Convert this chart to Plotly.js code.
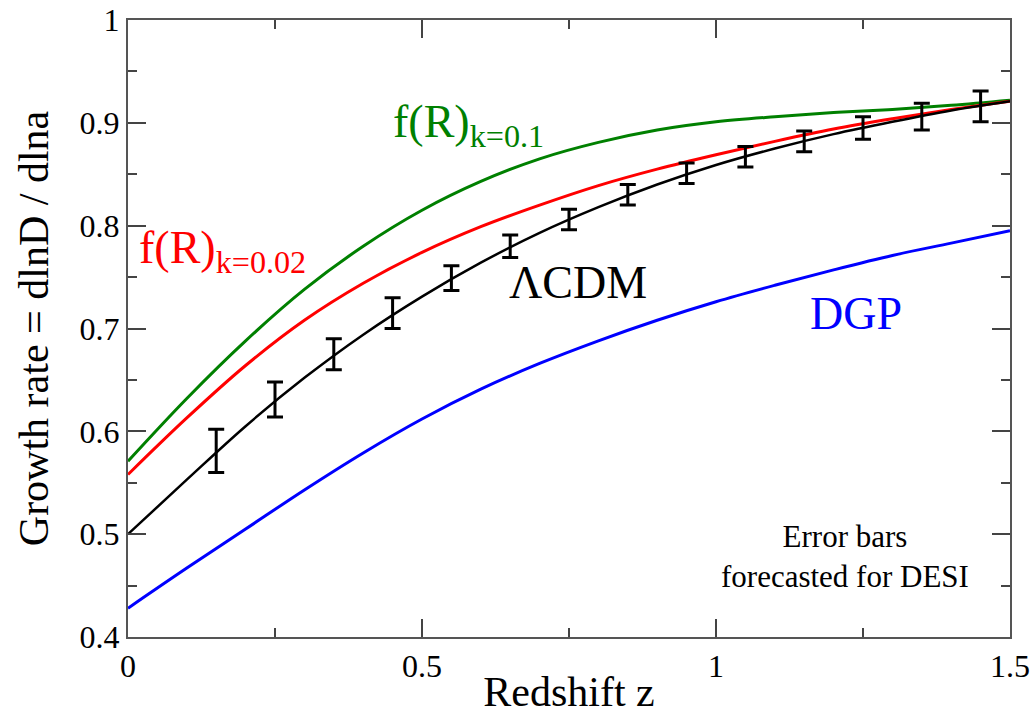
<!DOCTYPE html>
<html>
<head>
<meta charset="utf-8">
<script src="https://cdn.plot.ly/plotly-3.0.1.min.js"></script>
<style>html,body{margin:0;padding:0;background:#fff;}#chart{width:1035px;height:715px;}</style>
</head>
<body>
<div id="chart"></div>
<script>
// Redshift grid for the model curves
const z = [0, 0.1, 0.2, 0.3, 0.4, 0.5, 0.6, 0.7, 0.8, 0.9, 1.0, 1.1, 1.2, 1.3, 1.4, 1.5];
// Growth rate f = dlnD/dlna
const fLCDM  = [0.500, 0.553, 0.605, 0.652, 0.694, 0.731, 0.764, 0.793, 0.818, 0.840, 0.859, 0.875, 0.889, 0.901, 0.912, 0.921];
const fR002  = [0.558, 0.613, 0.664, 0.708, 0.744, 0.774, 0.799, 0.820, 0.839, 0.855, 0.869, 0.882, 0.894, 0.904, 0.913, 0.921];
const fR01   = [0.571, 0.632, 0.688, 0.738, 0.780, 0.815, 0.843, 0.865, 0.881, 0.893, 0.901, 0.906, 0.910, 0.913, 0.917, 0.922];
const fDGP   = [0.428, 0.467, 0.505, 0.543, 0.579, 0.612, 0.641, 0.666, 0.688, 0.708, 0.726, 0.742, 0.757, 0.771, 0.783, 0.795];
// DESI forecast error bars on the LCDM curve
const zDESI   = [0.15, 0.25, 0.35, 0.45, 0.55, 0.65, 0.75, 0.85, 0.95, 1.05, 1.15, 1.25, 1.35, 1.45];
const fDESI   = [0.581, 0.631, 0.675, 0.715, 0.749, 0.780, 0.806, 0.830, 0.851, 0.867, 0.882, 0.895, 0.906, 0.916];
const errDESI = [0.021, 0.017, 0.015, 0.015, 0.012, 0.011, 0.010, 0.010, 0.010, 0.010, 0.010, 0.011, 0.013, 0.015];

const serif = 'Times New Roman';
const green = 'rgb(0,128,0)';
const red = 'rgb(255,0,0)';
const blue = 'rgb(0,0,255)';

const traces = [
  {x: z, y: fDGP, mode: 'lines', line: {color: blue, width: 3, shape: 'spline', smoothing: 1}, name: 'DGP', hoverinfo: 'skip'},
  {x: z, y: fR01, mode: 'lines', line: {color: green, width: 3, shape: 'spline', smoothing: 1}, name: 'f(R) k=0.1', hoverinfo: 'skip'},
  {x: z, y: fR002, mode: 'lines', line: {color: red, width: 3, shape: 'spline', smoothing: 1}, name: 'f(R) k=0.02', hoverinfo: 'skip'},
  {x: z, y: fLCDM, mode: 'lines', line: {color: 'black', width: 2.5, shape: 'spline', smoothing: 1}, name: 'ΛCDM', hoverinfo: 'skip'},
  {x: zDESI, y: fDESI, mode: 'markers', marker: {size: 1, color: 'rgba(0,0,0,0)'}, name: 'DESI',
   error_y: {type: 'data', array: errDESI, visible: true, color: 'black', thickness: 3, width: 8}}
];

const axisCommon = {
  showline: true, linecolor: '#555', linewidth: 2, mirror: 'ticks',
  ticks: 'inside', ticklen: 18, tickwidth: 2, tickcolor: '#444',
  showgrid: false, zeroline: false,
  tickfont: {family: serif, size: 32, color: 'black'}
};

const layout = {
  width: 1035, height: 715,
  margin: {l: 128, r: 25, t: 20, b: 78, pad: 0},
  paper_bgcolor: 'white', plot_bgcolor: 'white',
  showlegend: false,
  font: {family: serif, color: 'black', size: 32},
  xaxis: Object.assign({}, axisCommon, {
    range: [0, 1.5], tick0: 0, dtick: 0.5,
    minor: {dtick: 0.25, ticks: 'inside', ticklen: 9, tickwidth: 2, tickcolor: '#444'},
    title: {text: 'Redshift z', font: {family: serif, size: 42, color: 'black'}, standoff: 2}
  }),
  yaxis: Object.assign({}, axisCommon, {
    range: [0.4, 1], tick0: 0.4, dtick: 0.1,
    minor: {dtick: 0.05, ticks: 'inside', ticklen: 9, tickwidth: 2, tickcolor: '#444'},
    title: {text: 'Growth rate = dlnD / dlna', font: {family: serif, size: 42, color: 'black'}, standoff: 18}
  }),
  annotations: [
    {xref: 'x', yref: 'y', x: 0.447, y: 0.898, xanchor: 'left', yanchor: 'middle', showarrow: false,
     text: 'f(R)<sub>k=0.1</sub>', font: {family: serif, size: 46, color: green}},
    {xref: 'x', yref: 'y', x: 0.015, y: 0.775, xanchor: 'left', yanchor: 'middle', showarrow: false,
     text: 'f(R)<sub>k=0.02</sub>', font: {family: serif, size: 46, color: red}},
    {xref: 'x', yref: 'y', x: 0.765, y: 0.745, xanchor: 'center', yanchor: 'middle', showarrow: false,
     text: 'ΛCDM', font: {family: serif, size: 46, color: 'black'}},
    {xref: 'x', yref: 'y', x: 1.238, y: 0.715, xanchor: 'center', yanchor: 'middle', showarrow: false,
     text: 'DGP', font: {family: serif, size: 46, color: blue}},
    {xref: 'x', yref: 'y', x: 1.22, y: 0.478, xanchor: 'center', yanchor: 'middle', showarrow: false,
     text: 'Error bars<br>forecasted for DESI', font: {family: serif, size: 31, color: 'black'}}
  ]
};

Plotly.newPlot('chart', traces, layout, {displayModeBar: false, staticPlot: true});
</script>
</body>
</html>
